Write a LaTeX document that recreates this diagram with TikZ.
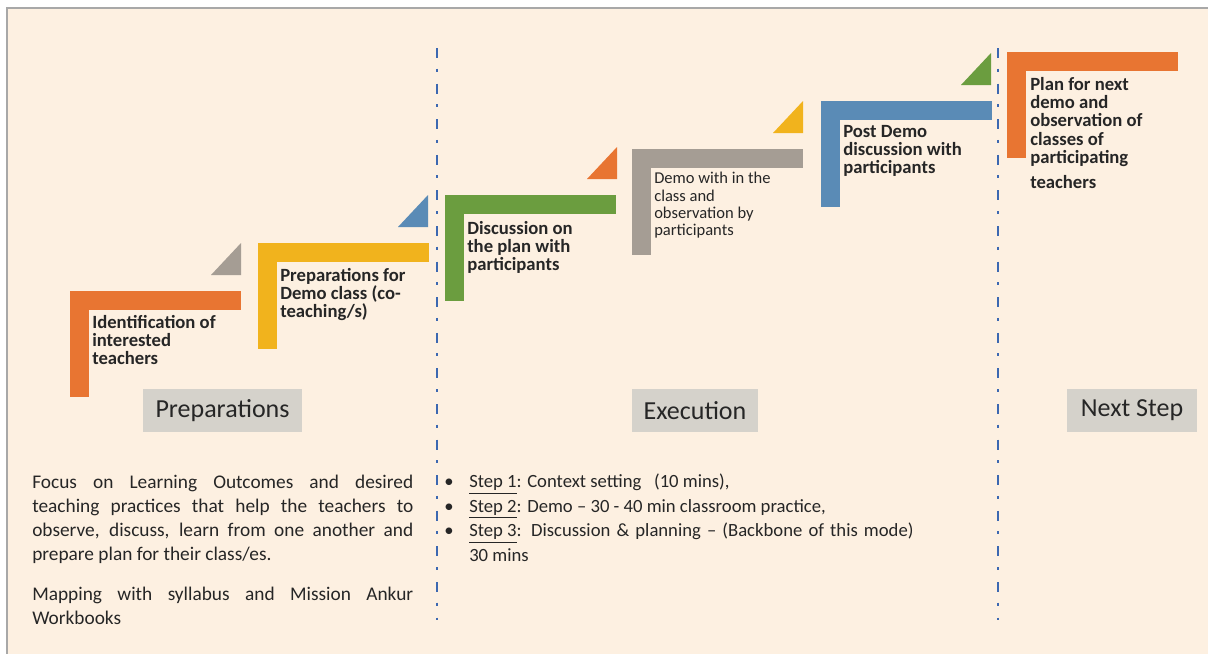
\documentclass[tikz,border=0pt]{standalone}
\usepackage{fontspec}
\setmainfont{Carlito}

\definecolor{bgcream}{HTML}{FDF0E1}
\definecolor{framegray}{HTML}{A8A8A8}
\definecolor{sepblue}{HTML}{3C68B1}
\definecolor{lblgray}{HTML}{D5D2CB}
\definecolor{stepOrange}{HTML}{E87532}
\definecolor{stepYellow}{HTML}{F1B31D}
\definecolor{stepGreen}{HTML}{6B9D3F}
\definecolor{stepGray}{HTML}{A59D94}
\definecolor{stepBlue}{HTML}{5A8BB6}

\tikzset{
  sepline/.style={sepblue, line width=1.8pt,
    dash pattern=on 7.5pt off 8pt on 2.2pt off 9pt},
  steptext/.style={anchor=north west, inner sep=0pt, align=left,
    font=\fontsize{14}{13.7}\selectfont\bfseries, text=black!85},
  sectionlbl/.style={fill=lblgray, inner sep=0pt, minimum height=32.25pt,
    font=\fontsize{19.5}{21}\selectfont, text=black!85},
  bodytext/.style={anchor=north west, inner sep=0pt, align=justify,
    font=\fontsize{14.5}{18}\selectfont, text=black!85}
}

\begin{document}
\begin{tikzpicture}[x=0.75pt, y=-0.75pt]
    \useasboundingbox (0,0) rectangle (1208,654);
    \fill[bgcream] (7,8) rectangle (1208,654);
    \draw[framegray, line width=1.5pt] (7,654) -- (7,8) -- (1208,8);

    \coordinate (sepAtop) at (437,48);
    \coordinate (sepAbot) at (437,620);
    \coordinate (sepBtop) at (998,48);
    \coordinate (sepBbot) at (998,620);
    \draw[sepline] (sepAtop) -- (sepAbot);
    \draw[sepline] (sepBtop) -- (sepBbot);

    \foreach \x/\y/\c in {70/291/stepOrange, 258/243/stepYellow, 445/195/stepGreen,
                          632/149/stepGray, 821/101/stepBlue, 1007/52/stepOrange}
    {
        \fill[\c] (\x,\y) rectangle (\x+171,\y+19);
        \fill[\c] (\x,\y) rectangle (\x+19,\y+106);
    }

    \foreach \x/\y/\c in {241/291/stepGray, 428/243/stepBlue, 617/195/stepOrange,
                          803/149/stepYellow, 991/101/stepGreen}
    {
        \fill[\c] (\x,\y-16) -- (\x,\y-48) -- (\x-30,\y-16) -- cycle;
    }

    \node[steptext] (ident) at (92,315) {Identification of\\interested\\teachers};
    \node[steptext] (prepdemo) at (280,268) {Preparations for\\Demo class (co-\\teaching/s)};
    \node[steptext] (discuss) at (467,221) {Discussion on\\the plan with\\participants};
    \node[steptext, font=\fontsize{12.4}{13}\selectfont] (demo) at (654,172)
        {Demo with in the\\class and\\observation by\\participants};
    \node[steptext] (postdemo) at (843,125) {Post Demo\\discussion with\\participants};
    \node[steptext] (plannext) at (1030,77)
        {Plan for next\\demo and\\observation of\\classes of\\participating\\[5pt]teachers};

    \node[sectionlbl, minimum width=119.25pt] (lblprep) at (222.5,410.5) {Preparations};
    \node[sectionlbl, minimum width=94.5pt] (lblexec) at (695,410.5) {Execution};
    \node[sectionlbl, minimum width=97.5pt] (lblnext) at (1132,410) {Next Step};

    \node[bodytext, text width=285.75pt] (focus) at (32,475)
        {Focus on Learning Outcomes and desired\linebreak
         teaching practices that help the teachers to\linebreak
         observe, discuss, learn from one another and\linebreak
         prepare plan for their class/es.\par\vspace{12pt}
         Mapping with syllabus and Mission Ankur\linebreak Workbooks};

    \node[bodytext, text width=352pt, font=\fontsize{14}{18.4}\selectfont] (steps) at (444,474)
        {\makebox[18.75pt][l]{\textbullet}\underline{Step 1}: Context setting\ \ \ (10 mins),\par
         \makebox[18.75pt][l]{\textbullet}\underline{Step 2}: Demo -- 30 - 40 min classroom practice,\par
         \hangindent=18.75pt\hangafter=1
         \makebox[18.75pt][l]{\textbullet}\underline{Step 3}: Discussion \& planning -- (Backbone of this mode)\linebreak
         30 mins\par};
\end{tikzpicture}
\end{document}
